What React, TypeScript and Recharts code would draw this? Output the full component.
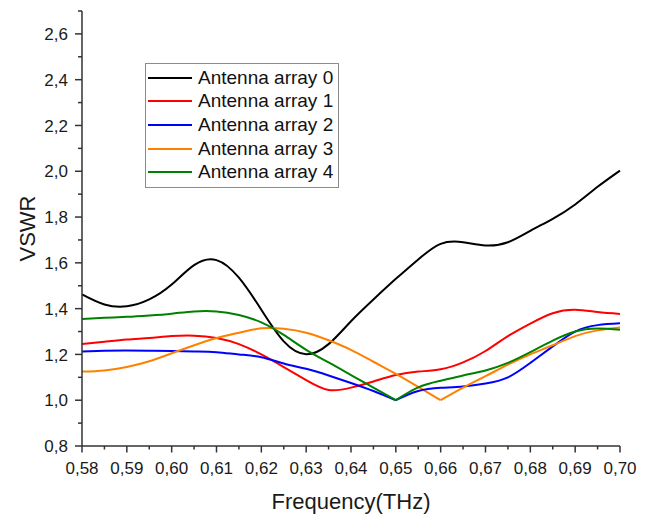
import React from 'react';
import { LineChart, Line, XAxis, YAxis, Legend } from 'recharts';

// frequency samples (THz)
const freq = [
  0.58, 0.585, 0.59, 0.595, 0.6, 0.605, 0.61, 0.615, 0.62, 0.625, 0.63, 0.635, 0.64,
  0.645, 0.65, 0.655, 0.66, 0.665, 0.67, 0.675, 0.68, 0.685, 0.69, 0.695, 0.7,
];

// VSWR per antenna array
const array0 = [
  1.462, 1.418, 1.41, 1.44, 1.505, 1.59, 1.612, 1.535, 1.395, 1.257, 1.201, 1.245, 1.345,
  1.44, 1.53, 1.615, 1.683, 1.69, 1.676, 1.69, 1.74, 1.792, 1.855, 1.932, 2.003,
];
const array1 = [
  1.245, 1.255, 1.265, 1.272, 1.28, 1.282, 1.272, 1.245, 1.2, 1.145, 1.088, 1.045, 1.055,
  1.082, 1.11, 1.125, 1.135, 1.165, 1.215, 1.28, 1.335, 1.38, 1.395, 1.385, 1.377,
];
const array2 = [
  1.213, 1.216, 1.217, 1.216, 1.215, 1.213, 1.21, 1.2, 1.188, 1.16, 1.137, 1.108, 1.075,
  1.04, 1.0, 1.04, 1.054, 1.06, 1.073, 1.1, 1.163, 1.235, 1.3, 1.328, 1.336,
];
const array3 = [
  1.125, 1.13, 1.145, 1.17, 1.205, 1.24, 1.272, 1.295, 1.314, 1.312, 1.295, 1.262, 1.22,
  1.168, 1.115, 1.058, 1.0, 1.055, 1.105, 1.155, 1.2, 1.24, 1.28, 1.305, 1.318,
];
const array4 = [
  1.355, 1.36, 1.364, 1.37, 1.378, 1.388, 1.388, 1.372, 1.34, 1.285, 1.22, 1.165, 1.11,
  1.055, 1.0, 1.056, 1.085, 1.108, 1.13, 1.163, 1.21, 1.26, 1.3, 1.313, 1.308,
];

const seriesNames = ['Antenna array 0', 'Antenna array 1', 'Antenna array 2', 'Antenna array 3', 'Antenna array 4'];
const seriesColors = ['#000000', '#ff0000', '#0000ff', '#ff8000', '#008000'];

const xTicks = freq;
const yTicks = [0.8, 0.9, 1.0, 1.1, 1.2, 1.3, 1.4, 1.5, 1.6, 1.7, 1.8, 1.9, 2.0, 2.1, 2.2, 2.3, 2.4, 2.5, 2.6, 2.7];

const FONT = '"Liberation Sans", Arial, sans-serif';
const AXIS = '#333333';

// curves with a sharp minimum are drawn as two pieces meeting at that point
const sharp: [string, number[], number][] = [
  ['a2', array2, 14],
  ['a3', array3, 16],
  ['a4', array4, 14],
];

const data = freq.map((f, i) => {
  const row: Record<string, number | null> = { f, a0: array0[i], a1: array1[i] };
  sharp.forEach(([key, vals, m]) => {
    row[key + 'L'] = i <= m ? vals[i] : null;
    row[key + 'R'] = i >= m ? vals[i] : null;
  });
  return row;
});

const comma = (v: number, digits: number) => v.toFixed(digits).replace('.', ',');

const XTick = (props: any) => {
  const { x, y, payload } = props;
  const major = Math.round(payload.value * 1000) % 10 === 0;
  return (
    <g>
      <line x1={x} x2={x} y1={y} y2={y + (major ? 6.5 : 3.5)} stroke={AXIS} strokeWidth={1.5} />
      {major && (
        <text x={x} y={y + 28} textAnchor="middle" fontSize={17} fontFamily={FONT} fill="#1a1a1a">
          {comma(payload.value, 2)}
        </text>
      )}
    </g>
  );
};

const YTick = (props: any) => {
  const { x, y, payload } = props;
  const tenth = Math.round(payload.value * 10);
  const major = tenth % 2 === 0;
  return (
    <g>
      <line x1={x - (major ? 7 : 4)} x2={x} y1={y} y2={y} stroke={AXIS} strokeWidth={1.5} />
      {major && (
        <text x={x - 14} y={y} dy="0.36em" textAnchor="end" fontSize={17} fontFamily={FONT} fill="#1a1a1a">
          {comma(payload.value, 1)}
        </text>
      )}
    </g>
  );
};

const LegendBox = ({ payload }: any) => (
  <div
    style={{
      border: '1px solid #8c8c8c',
      background: '#fff',
      padding: '2px 5px 3px 2px',
      fontFamily: FONT,
      fontSize: 19,
      color: '#111',
    }}
  >
    {(payload || [])
      .filter((p: any) => p.type !== 'none' && seriesNames.includes(p.value))
      .map((p: any) => (
        <div key={p.value} style={{ display: 'flex', alignItems: 'center', height: 23.6, whiteSpace: 'nowrap' }}>
          <span style={{ display: 'inline-block', width: 44, borderTop: `2px solid ${p.color}`, marginRight: 6 }} />
          <span>{p.value}</span>
        </div>
      ))}
  </div>
);

export default function App() {
  return (
    <div style={{ position: 'absolute', left: 0, top: 0, background: '#fff' }}>
      <LineChart width={650} height={516} data={data} margin={{ top: 11, right: 30, bottom: 0, left: 0 }}>
        <XAxis
          dataKey="f"
          type="number"
          domain={[0.58, 0.7]}
          ticks={xTicks}
          interval={0}
          height={70}
          tickSize={0}
          tickMargin={0}
          tickLine={false}
          axisLine={{ stroke: AXIS, strokeWidth: 1.5 }}
          tick={<XTick />}
          label={{
            content: (p: any) => (
              <text
                x={p.viewBox.x + p.viewBox.width / 2}
                y={p.viewBox.y + 63}
                textAnchor="middle"
                fontSize={22}
                fontFamily={FONT}
                fill="#1a1a1a"
              >
                Frequency(THz)
              </text>
            ),
          }}
        />
        <YAxis
          type="number"
          domain={[0.8, 2.7]}
          ticks={yTicks}
          interval={0}
          width={82}
          tickSize={0}
          tickMargin={0}
          tickLine={false}
          axisLine={{ stroke: AXIS, strokeWidth: 1.5 }}
          tick={<YTick />}
          label={{
            content: (p: any) => {
              const cx = 27;
              const cy = p.viewBox.y + p.viewBox.height / 2;
              return (
                <text
                  x={cx}
                  y={cy}
                  dy="0.36em"
                  transform={`rotate(-90 ${cx} ${cy})`}
                  textAnchor="middle"
                  fontSize={22}
                  fontFamily={FONT}
                  fill="#1a1a1a"
                >
                  VSWR
                </text>
              );
            },
          }}
        />
        <Legend
          layout="vertical"
          align="center"
          verticalAlign="middle"
          content={<LegendBox />}
          wrapperStyle={{ left: 145, top: 63, width: 'auto', height: 'auto' }}
        />
        <Line type="natural" dataKey="a0" name={seriesNames[0]} stroke={seriesColors[0]} strokeWidth={2} dot={false} isAnimationActive={false} />
        <Line type="natural" dataKey="a1" name={seriesNames[1]} stroke={seriesColors[1]} strokeWidth={2} dot={false} isAnimationActive={false} />
        <Line type="natural" dataKey="a2L" name={seriesNames[2]} stroke={seriesColors[2]} strokeWidth={2} dot={false} isAnimationActive={false} />
        <Line type="natural" dataKey="a3L" name={seriesNames[3]} stroke={seriesColors[3]} strokeWidth={2} dot={false} isAnimationActive={false} />
        <Line type="natural" dataKey="a4L" name={seriesNames[4]} stroke={seriesColors[4]} strokeWidth={2} dot={false} isAnimationActive={false} />
        <Line type="natural" dataKey="a2R" legendType="none" stroke={seriesColors[2]} strokeWidth={2} dot={false} isAnimationActive={false} />
        <Line type="natural" dataKey="a3R" legendType="none" stroke={seriesColors[3]} strokeWidth={2} dot={false} isAnimationActive={false} />
        <Line type="natural" dataKey="a4R" legendType="none" stroke={seriesColors[4]} strokeWidth={2} dot={false} isAnimationActive={false} />
      </LineChart>
    </div>
  );
}
